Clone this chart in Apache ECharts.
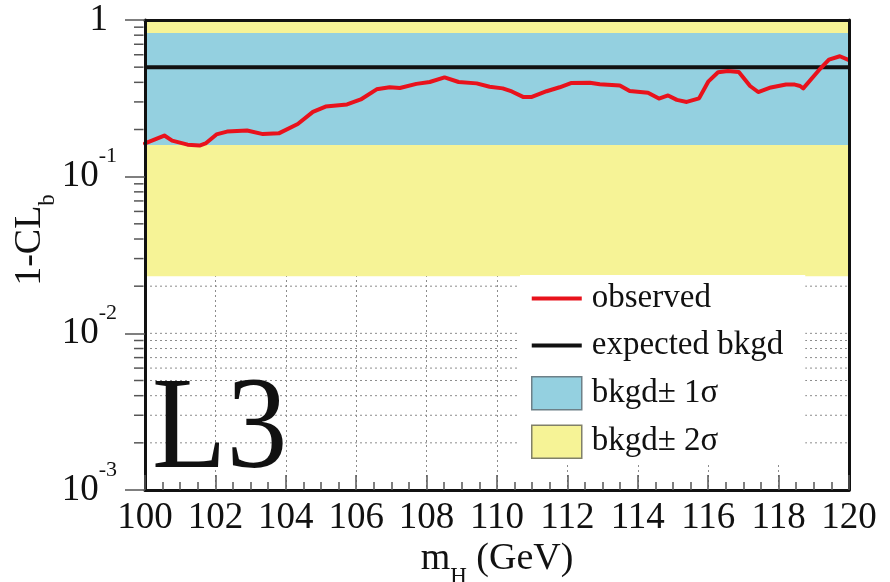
<!DOCTYPE html>
<html>
<head>
<meta charset="utf-8">
<script src="https://cdn.jsdelivr.net/npm/echarts@6/dist/echarts.min.js"></script>
<style>
  html, body { margin: 0; padding: 0; background: #ffffff; }
  #chart { width: 890px; height: 582px; }
</style>
</head>
<body>
<div id="chart"></div>
<script>
// Higgs mass scan range (GeV) and tick spacing
const massRange = [100, 120];
const massTickStep = 2;

// Observed 1-CL_b versus m_H
const masses = [
  100.00, 100.55, 100.77, 101.21, 101.55, 101.72, 102.03, 102.33, 102.90, 103.35,
  103.80, 104.34, 104.77, 105.13, 105.74, 106.13, 106.58, 106.95, 107.24, 107.71,
  108.09, 108.51, 108.91, 109.42, 109.79, 110.16, 110.42, 110.74, 110.99, 111.41,
  111.78, 112.10, 112.64, 112.92, 113.49, 113.77, 114.29, 114.60, 114.86, 115.11,
  115.39, 115.74, 116.00, 116.28, 116.56, 116.87, 117.19, 117.42, 117.78, 118.21,
  118.46, 118.61, 118.70, 119.15, 119.43, 119.74, 120.00
];
const observed = [
  0.163, 0.183, 0.170, 0.160, 0.158, 0.163, 0.186, 0.194, 0.197, 0.187,
  0.189, 0.217, 0.259, 0.280, 0.289, 0.311, 0.361, 0.372, 0.368, 0.391,
  0.402, 0.430, 0.402, 0.394, 0.375, 0.366, 0.350, 0.323, 0.323, 0.351,
  0.372, 0.396, 0.398, 0.389, 0.382, 0.352, 0.343, 0.315, 0.330, 0.309,
  0.300, 0.316, 0.404, 0.464, 0.472, 0.466, 0.379, 0.347, 0.371, 0.388,
  0.387, 0.379, 0.366, 0.480, 0.559, 0.587, 0.555
];

// Background-only expectation and its 1 and 2 sigma bands
const expectedBkgd = 0.5;
const band1Sigma = [0.159, 0.826];
const band2Sigma = [0.0231, 1.0];

// Log axis range and decade layout
const yRange = [0.001, 1];
const decades = [0.001, 0.01, 0.1];
const minorMultipliers = [2, 3, 4, 5, 6, 7, 8, 9];

const seriesNames = ['observed', 'expected bkgd', 'bkgd\u00b1 1\u03c3', 'bkgd\u00b1 2\u03c3'];

const RED = '#e8121c';
const BLACK = '#111111';
const BLUE = '#94d0e0';
const YELLOW = '#f6f396';
const SERIF = '"Liberation Serif", "Times New Roman", serif';

const minorValues = [];
decades.forEach(d => minorMultipliers.forEach(m => minorValues.push(+(d * m).toPrecision(3))));
const gridValues = minorValues.concat(decades);

// thin horizontal bar inside a full-size box, used as legend line icon
const LINE_ICON = 'path://M0,0L0.01,0L0,0.01Z M0,14.5L50,14.5L50,18.5L0,18.5Z M50,33L49.99,33L50,32.99Z';

const chart = echarts.init(document.getElementById('chart'), null, { renderer: 'canvas' });

function bandItem(params, api) {
  const p0 = api.coord([api.value(0), api.value(3)]);
  const p1 = api.coord([api.value(1), api.value(2)]);
  return {
    type: 'rect',
    shape: { x: p0[0], y: p0[1], width: p1[0] - p0[0], height: p1[1] - p0[1] },
    style: { fill: api.visual('color') }
  };
}

const subRich = {
  a: { fontFamily: SERIF, fontSize: 38, color: BLACK, lineHeight: 38 },
  sub: { fontFamily: SERIF, fontSize: 23, color: BLACK, lineHeight: 58, verticalAlign: 'bottom' }
};

const option = {
  animation: false,
  backgroundColor: '#ffffff',
  grid: { left: 145, right: 41, top: 20, bottom: 92, containLabel: false, outerBoundsMode: 'none' },
  legend: {
    orient: 'vertical',
    left: 520,
    top: 275,
    backgroundColor: '#ffffff',
    padding: [7, 22, 6, 11],
    itemWidth: 50,
    itemHeight: 33,
    itemGap: 14,
    selectedMode: false,
    textStyle: { fontFamily: SERIF, fontSize: 33, color: BLACK, padding: [0, 0, 0, 5] },
    data: [
      { name: seriesNames[0], icon: LINE_ICON, itemStyle: { color: RED, borderWidth: 0 } },
      { name: seriesNames[1], icon: LINE_ICON, itemStyle: { color: BLACK, borderWidth: 0 } },
      { name: seriesNames[2], icon: 'rect', itemStyle: { color: BLUE, borderColor: '#6d8088', borderWidth: 1.5 } },
      { name: seriesNames[3], icon: 'rect', itemStyle: { color: YELLOW, borderColor: '#808068', borderWidth: 1.5 } }
    ]
  },
  xAxis: [
    { // vertical dotted grid lines
      type: 'value', min: massRange[0], max: massRange[1], interval: massTickStep,
      position: 'bottom', z: 0,
      axisLine: { show: false }, axisTick: { show: false }, axisLabel: { show: false },
      splitLine: { show: true, lineStyle: { color: '#8c8c8c', width: 1, type: [2, 3] } }
    },
    { // main mass axis
      type: 'value', min: massRange[0], max: massRange[1], interval: massTickStep,
      position: 'bottom', z: 10,
      name: '{a|m}{sub|H}{a| (GeV)}',
      nameLocation: 'middle',
      nameGap: 40,
      nameMoveOverlap: false,
      nameTextStyle: { rich: subRich },
      axisLine: { show: true, lineStyle: { color: BLACK, width: 3 } },
      axisTick: { show: true, inside: true, length: 15, lineStyle: { color: '#555', width: 1.5 } },
      minorTick: { show: true, splitNumber: 4, length: 8, lineStyle: { color: '#555', width: 1.5 } },
      splitLine: { show: false },
      axisLabel: { show: true, margin: 10, fontFamily: SERIF, fontSize: 37, color: BLACK }
    },
    { // top frame
      type: 'value', min: massRange[0], max: massRange[1], position: 'top', z: 10,
      axisLine: { show: true, lineStyle: { color: BLACK, width: 3 } },
      axisTick: { show: false }, axisLabel: { show: false }, splitLine: { show: false }
    }
  ],
  yAxis: [
    {
      type: 'log', logBase: 10, min: yRange[0], max: yRange[1], position: 'left', z: 10,
      name: '{a|1-CL}{sub|b}',
      nameLocation: 'middle',
      nameGap: 86,
      nameMoveOverlap: false,
      nameTextStyle: { padding: [0, 0, 0, 30], rich: subRich },
      axisLine: { show: true, lineStyle: { color: BLACK, width: 3 } },
      axisTick: { show: true, inside: false, length: 20, lineStyle: { color: '#555', width: 1.5 } },
      splitLine: { show: false },
      axisLabel: {
        show: true, margin: 28,
        formatter: function (v) {
          const e = Math.round(Math.log10(v));
          if (e === 0) return '{one|1}';
          return '{b|10}{s|' + e + '}';
        },
        rich: {
          one: { fontFamily: SERIF, fontSize: 37, color: BLACK, lineHeight: 37, padding: [0, 9, 0, 0] },
          b: { fontFamily: SERIF, fontSize: 37, color: BLACK, lineHeight: 37 },
          s: { fontFamily: SERIF, fontSize: 22, color: BLACK, lineHeight: 62, verticalAlign: 'top' }
        }
      }
    },
    { // right frame
      type: 'log', logBase: 10, min: yRange[0], max: yRange[1], position: 'right', z: 10,
      axisLine: { show: true, lineStyle: { color: BLACK, width: 3 } },
      axisTick: { show: false }, axisLabel: { show: false }, splitLine: { show: false }
    }
  ],
  graphic: [
    {
      type: 'text', x: 152, y: 433, scaleX: 0.93, z: 5,
      style: { text: 'L3', fontFamily: SERIF, fontSize: 131, fill: BLACK, verticalAlign: 'middle', align: 'left' }
    }
  ],
  series: [
    { // horizontal dotted grid lines at every log tick
      type: 'custom', xAxisIndex: 0, yAxisIndex: 0, z: 1, silent: true,
      data: gridValues.map(v => [massRange[0], v]),
      renderItem: function (params, api) {
        const a = api.coord([massRange[0], api.value(1)]);
        const b = api.coord([massRange[1], api.value(1)]);
        return { type: 'line', shape: { x1: a[0], y1: a[1], x2: b[0], y2: b[1] },
                 style: { stroke: '#8c8c8c', lineWidth: 1, lineDash: [2, 3] } };
      }
    },
    { // minor ticks on the log axis
      type: 'custom', xAxisIndex: 0, yAxisIndex: 0, z: 3, silent: true, clip: false,
      data: minorValues.map(v => [massRange[0], v]),
      renderItem: function (params, api) {
        const a = api.coord([massRange[0], api.value(1)]);
        return { type: 'line', shape: { x1: a[0] - 11, y1: a[1], x2: a[0] - 1.5, y2: a[1] },
                 style: { stroke: '#555', lineWidth: 1.5 } };
      }
    },
    {
      name: seriesNames[3], type: 'custom', xAxisIndex: 0, yAxisIndex: 0, z: 2, silent: true,
      itemStyle: { color: YELLOW },
      encode: { x: [0, 1], y: [2, 3] },
      data: [[massRange[0], massRange[1], band2Sigma[0], band2Sigma[1]]],
      renderItem: bandItem
    },
    {
      name: seriesNames[2], type: 'custom', xAxisIndex: 0, yAxisIndex: 0, z: 2, silent: true,
      itemStyle: { color: BLUE },
      encode: { x: [0, 1], y: [2, 3] },
      data: [[massRange[0], massRange[1], band1Sigma[0], band1Sigma[1]]],
      renderItem: bandItem
    },
    {
      name: seriesNames[1], type: 'line', xAxisIndex: 0, yAxisIndex: 0, z: 3,
      symbol: 'none', silent: true,
      itemStyle: { color: BLACK },
      lineStyle: { color: BLACK, width: 4 },
      data: [[massRange[0], expectedBkgd], [massRange[1], expectedBkgd]]
    },
    {
      name: seriesNames[0], type: 'line', xAxisIndex: 0, yAxisIndex: 0, z: 4,
      symbol: 'none', silent: true,
      itemStyle: { color: RED },
      lineStyle: { color: RED, width: 4, join: 'round', cap: 'round' },
      data: masses.map((m, i) => [m, observed[i]])
    }
  ]
};

chart.setOption(option);
</script>
</body>
</html>
